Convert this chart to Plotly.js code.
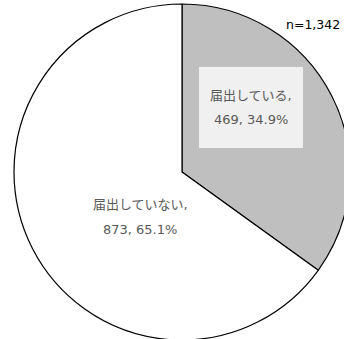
<!DOCTYPE html>
<html>
<head>
<meta charset="utf-8">
<script src="https://cdn.plot.ly/plotly-3.0.1.min.js"></script>
<style>
html,body{margin:0;padding:0;overflow:hidden;background:#fff;}
#chart{width:364px;height:344px;}
</style>
</head>
<body>
<div id="chart"></div>
<script>
const labels = ['届出している', '届出していない'];
const values = [469, 873];
const colors = ['#bfbfbf', '#ffffff'];
const nText = 'n=1,342';

const W = 364, H = 344;
const total = values.reduce((a, b) => a + b, 0);
const pct = values.map(v => (v / total * 100).toFixed(1) + '%');
const px = x => x / W;
const py = y => 1 - y / H;
const fam = '"DejaVu Sans", "Noto Sans CJK JP", sans-serif';
const font = {family: fam, size: 13, color: '#595959'};

// label line positions (pixels)
const labelPos = [
  {x: 251, y1: 95, y2: 120},
  {x: 140, y1: 204, y2: 229}
];

const annotations = [];
labels.forEach((l, i) => {
  annotations.push({xref: 'paper', yref: 'paper', x: px(labelPos[i].x), y: py(labelPos[i].y1),
    text: l + ',', showarrow: false, font: font, xanchor: 'center', yanchor: 'middle'});
  annotations.push({xref: 'paper', yref: 'paper', x: px(labelPos[i].x), y: py(labelPos[i].y2),
    text: values[i] + ', ' + pct[i], showarrow: false, font: font, xanchor: 'center', yanchor: 'middle'});
});
annotations.push({xref: 'paper', yref: 'paper', x: px(342), y: py(24), text: nText, showarrow: false,
  xanchor: 'right', yanchor: 'middle', font: {family: fam, size: 12.5, color: '#000'}});

const data = [{
  type: 'pie',
  labels: labels,
  values: values,
  sort: false,
  direction: 'clockwise',
  rotation: 0,
  textinfo: 'none',
  hoverinfo: 'none',
  marker: {colors: colors, line: {color: '#000', width: 1.2}},
  domain: {x: [px(14), px(350)], y: [py(340), py(4)]}
}];

const layout = {
  width: W, height: H,
  margin: {l: 0, r: 0, t: 0, b: 0},
  showlegend: false,
  paper_bgcolor: '#fff',
  shapes: [{type: 'rect', xref: 'paper', yref: 'paper', x0: px(199), x1: px(303), y0: py(148), y1: py(67),
    fillcolor: '#f0f0f0', line: {width: 0}, layer: 'above'}],
  annotations: annotations
};

Plotly.newPlot('chart', data, layout, {displayModeBar: false, staticPlot: true});
</script>
</body>
</html>
